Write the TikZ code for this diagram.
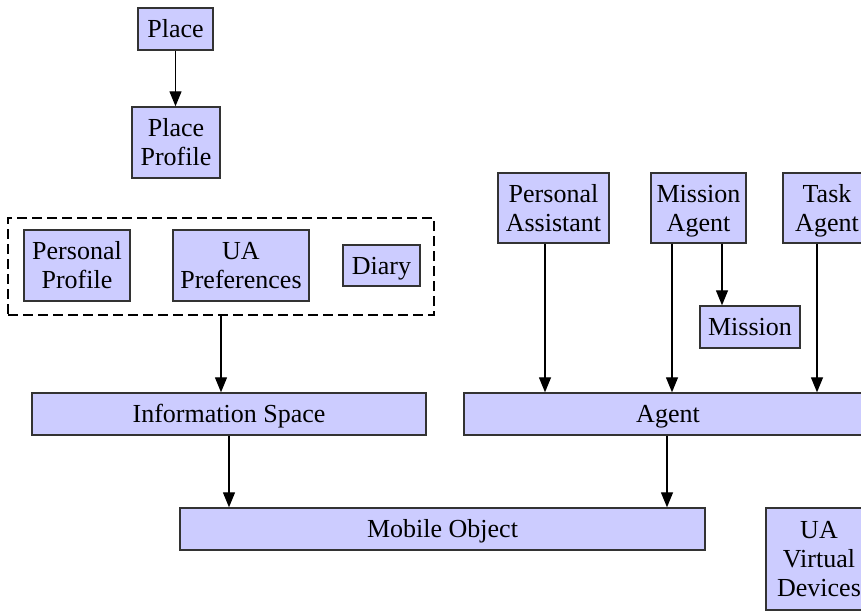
\documentclass[tikz,border=0pt]{standalone}
\usepackage{fontspec}
\setmainfont{Liberation Serif}
\newfontfamily\diagfont{Liberation Serif}
\usetikzlibrary{arrows.meta}
\definecolor{boxfill}{HTML}{CCCCFF}
\definecolor{boxline}{HTML}{333333}
% stacked lines, baseline on the last line
\newcommand\boxlines[1]{\begin{tabular}[b]{@{}c@{}}#1\end{tabular}}
\tikzset{
  cls/.style={draw=boxline, line width=1.4pt, fill=boxfill, rectangle,
    inner sep=0pt, font=\diagfont\fontsize{26}{29}\selectfont,
    text height=17.6pt, text depth=0pt},
  twolines/.style={text height=46.6pt},
  threelines/.style={text height=75.6pt},
  grpbox/.style={draw=black, line width=1.8pt, dash pattern=on 10pt off 5pt,
    rectangle, inner sep=0pt},
  arr/.style={draw=black, line width=1.3pt,
    -{Triangle[length=15pt,width=12pt]}}
}
\begin{document}
\begin{tikzpicture}[x=1pt,y=-1pt]
\useasboundingbox (0,0) rectangle (861,610);
\clip (0,0) rectangle (861,610);

% places
\node[cls, minimum width=75pt, minimum height=42pt] (place) at (175.5,29) {Place};
\node[cls, twolines, minimum width=88pt, minimum height=71pt] (pprof) at (176,142.5) {\boxlines{Place\\Profile}};

% user-agent information group
\node[grpbox, minimum width=426pt, minimum height=97pt] (grp) at (221,266.5) {};
\node[cls, twolines, minimum width=106pt, minimum height=71pt] (perprof) at (77,265.5) {\boxlines{Personal\\Profile}};
\node[cls, twolines, minimum width=136pt, minimum height=71pt] (uapref) at (241,265.5) {\boxlines{UA\\Preferences}};
\node[cls, minimum width=77pt, minimum height=41pt] (diary) at (381.5,265.5) {Diary};
\node[cls, minimum width=394pt, minimum height=42pt] (info) at (229,414) {Information Space};

% agents
\node[cls, twolines, minimum width=111pt, minimum height=70pt] (pa) at (553.5,208) {\boxlines{Personal\\Assistant}};
\node[cls, twolines, minimum width=95pt, minimum height=70pt] (ma) at (698.5,208) {\boxlines{Mission\\Agent}};
\node[cls, twolines, minimum width=88pt, minimum height=70pt] (ta) at (827,208) {\boxlines{Task\\Agent}};
\node[cls, minimum width=100pt, minimum height=42pt] (mission) at (750,327) {Mission};
\node[cls, minimum width=408pt, minimum height=42pt] (agent) at (668,414) {Agent};

% bottom row
\node[cls, minimum width=525pt, minimum height=42pt] (mobile) at (442.5,529) {Mobile Object};
\node[cls, threelines, minimum width=106pt, minimum height=102pt] (uavd) at (819,559) {\boxlines{UA\\Virtual\\Devices}};

% connectors
\draw[arr] (place.south) -- (place.south |- pprof.north);
\draw[arr] (grp.south) -- (grp.south |- info.north);
\draw[arr] (info.south) -- (info.south |- mobile.north);
\draw[arr] ([xshift=-1pt]agent.south) -- ([xshift=-1pt]agent.south |- mobile.north);
\draw[arr] ([xshift=-8.5pt]pa.south) -- ([xshift=-8.5pt]pa.south |- agent.north);
\draw[arr] ([xshift=-26.5pt]ma.south) -- ([xshift=-26.5pt]ma.south |- agent.north);
\draw[arr] ([xshift=23.5pt]ma.south) -- ([xshift=23.5pt]ma.south |- mission.north);
\draw[arr] ([xshift=-10pt]ta.south) -- ([xshift=-10pt]ta.south |- agent.north);
\end{tikzpicture}
\end{document}
